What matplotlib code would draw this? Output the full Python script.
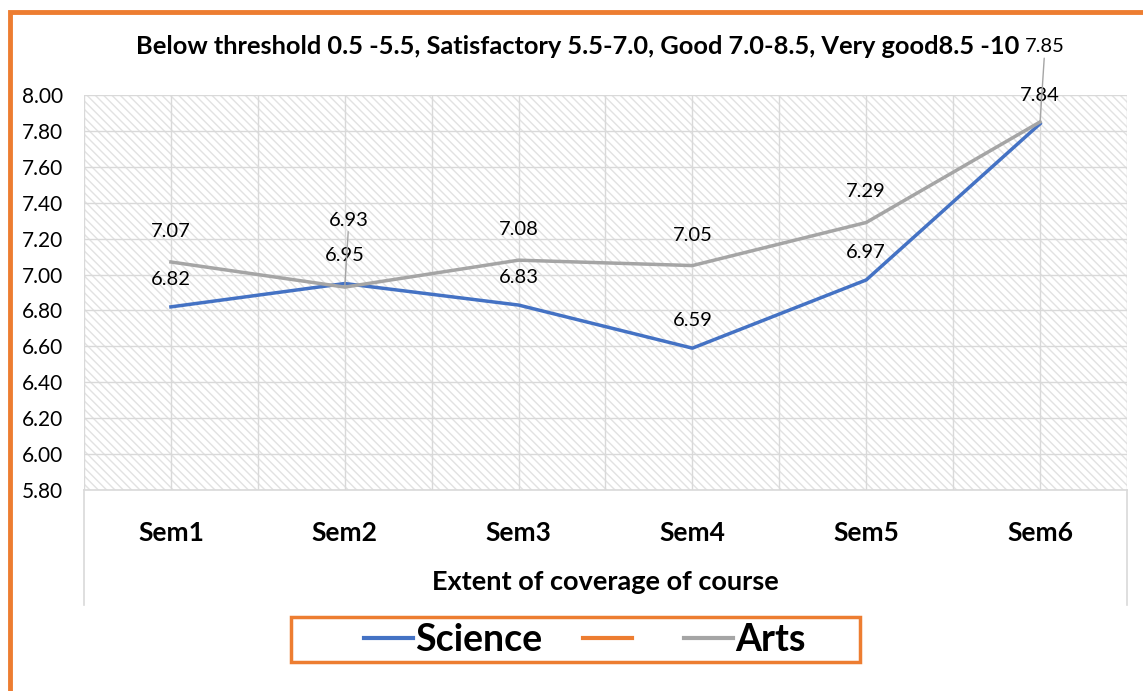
import numpy as np
import matplotlib
matplotlib.use('Agg')
import matplotlib.pyplot as plt
from matplotlib.patches import Rectangle
from matplotlib.lines import Line2D

# Datos
semestres = ['Sem1', 'Sem2', 'Sem3', 'Sem4', 'Sem5', 'Sem6']
science = [6.82, 6.95, 6.83, 6.59, 6.97, 7.84]
arts = [7.07, 6.93, 7.08, 7.05, 7.29, 7.85]
y_ticks = [5.80, 6.00, 6.20, 6.40, 6.60, 6.80, 7.00, 7.20, 7.40, 7.60, 7.80, 8.00]
titulo = 'Below threshold 0.5 -5.5, Satisfactory 5.5-7.0, Good 7.0-8.5, Very good8.5 -10'

plt.rcParams['font.family'] = ['Lato', 'DejaVu Sans']
plt.rcParams['hatch.linewidth'] = 1.0
plt.rcParams['hatch.color'] = '#e2e2e2'

W, H = 1143, 691
fig = plt.figure(figsize=(W / 100, H / 100), dpi=100)
ax = fig.add_axes([84 / W, 1 - 490 / H, (1127 - 84) / W, (490 - 95) / H])

x = np.arange(len(semestres))
grey = '#d9d9d9'

# fondo rayado del area de trazado
ax.add_patch(Rectangle((0, 0), 1, 1, transform=ax.transAxes, facecolor='white',
                       hatch='\\\\\\\\', edgecolor='#e2e2e2', linewidth=0, zorder=0))

ax.plot(x, science, color='#4472C4', lw=2.5, zorder=3)
ax.plot(x, arts, color='#A5A5A5', lw=2.5, zorder=3)

ax.set_xlim(-0.5, len(semestres) - 0.5)
ax.set_ylim(5.8, 8.0)
ax.set_yticks(y_ticks)
ax.set_yticklabels(['%.2f' % v for v in y_ticks], fontsize=15)
ax.set_xticks(x)
ax.set_xticklabels(semestres, fontsize=19, fontweight='bold')
ax.set_xticks(np.arange(-0.5, len(semestres), 1.0), minor=True)
ax.tick_params(axis='both', length=0, which='both')
ax.tick_params(axis='y', pad=15)
ax.tick_params(axis='x', pad=22)
ax.grid(True, which='both', color=grey, lw=1, zorder=1)
ax.set_axisbelow(True)
for s in ['top', 'right', 'left']:
    ax.spines[s].set_visible(False)
ax.spines['bottom'].set_color(grey)
ax.spines['bottom'].set_linewidth(1.2)

# lineas verticales bajo el eje de categorias
for xa in [0, 1]:
    ax.plot([xa, xa], [0, -115 / 395], transform=ax.transAxes, color=grey,
            lw=1.2, clip_on=False)

ax.set_xlabel('Extent of coverage of course', fontsize=19.5, fontweight='bold', labelpad=18)

# etiquetas de datos
for i, v in enumerate(science):
    ax.annotate('%.2f' % v, (x[i], v), xytext=(0, 20), textcoords='offset points',
                ha='center', va='center', fontsize=14.5)
for i, v in enumerate(arts):
    if i == 1:
        off = (3, 48)
    elif i == 5:
        off = (3.5, 54)
    else:
        off = (0, 22)
    props = None
    if i in (1, 5):
        props = dict(arrowstyle='-', color='#A5A5A5', lw=1, shrinkA=0, shrinkB=0)
    ax.annotate('%.2f' % v, (x[i], v), xytext=off, textcoords='offset points',
                ha='center', va='center', fontsize=14.5, arrowprops=props,
                annotation_clip=False)

fig.text(578 / W, 1 - 47 / H, titulo, ha='center', va='center',
         fontsize=18.3, fontweight='bold')

# leyenda
orange = '#ED7D31'
handles = [Line2D([], [], color='#4472C4', lw=3),
           Line2D([], [], color=orange, lw=3),
           Line2D([], [], color='#A5A5A5', lw=3)]
fig.legend(handles, ['Science', ' ', 'Arts'], loc='center', ncol=3,
           bbox_to_anchor=(585 / W, 1 - 640 / H), frameon=False,
           prop={'size': 27, 'weight': 'bold'}, handlelength=1.3,
           handletextpad=0.05, columnspacing=1.1)
fig.add_artist(Rectangle((291 / W, 1 - 662 / H), 569 / W, 45 / H,
                         transform=fig.transFigure, fill=False, ec=orange, lw=2.5))

# borde naranja de la figura
fig.add_artist(Rectangle((9.5 / W, -0.1), 1.2, 1.1 - 11.5 / H,
                         transform=fig.transFigure, fill=False, ec=orange, lw=3.5))

fig.savefig('out.png', dpi=100)
